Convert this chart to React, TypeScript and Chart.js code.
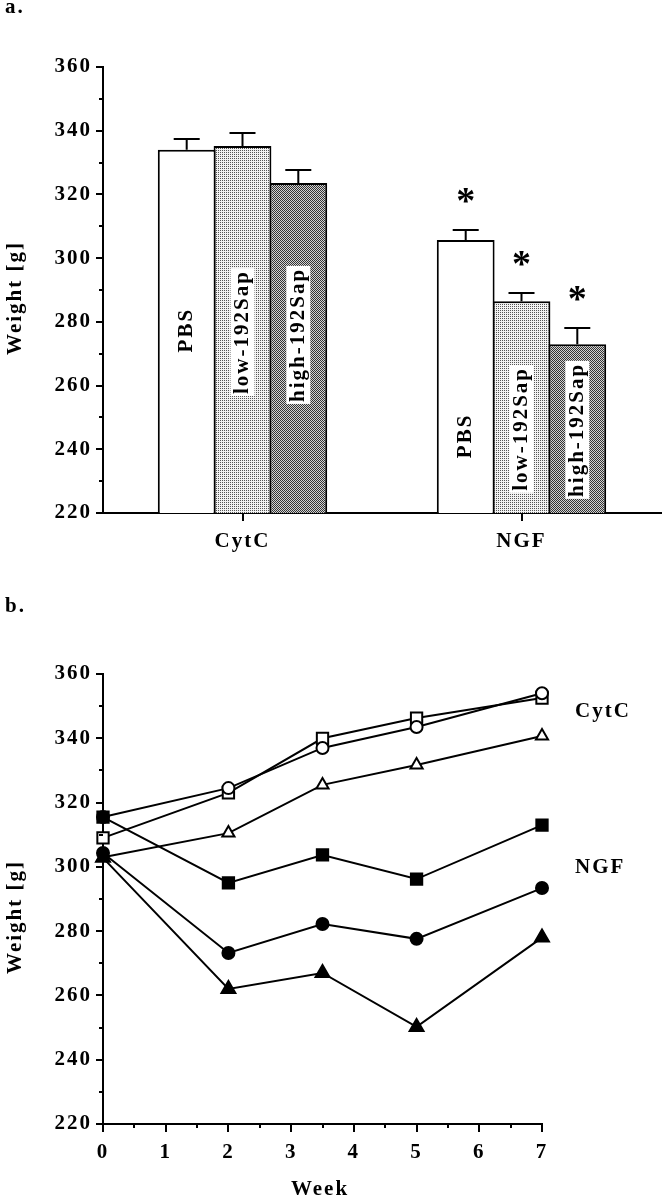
import React, { useEffect, useRef } from 'react';
import { Chart, registerables } from 'chart.js';

Chart.register(...registerables);

// ---------- data ----------
const barCategories = ['CytC', 'NGF'];
const barGroups = ['PBS', 'low-192Sap', 'high-192Sap'];
const pbsWeights = [334, 305.7];
const lowSapWeights = [335.2, 286.5];
const highSapWeights = [323.6, 273];
const pbsErrors = [3.5, 3.1];
const lowSapErrors = [4.1, 2.5];
const highSapErrors = [4.1, 5];
const significant = [false, true];

const weeks = [0, 2, 3.5, 5, 7];
const cytcCircle = [315.5, 324.5, 337, 343.5, 354];
const cytcSquare = [309, 323, 340, 346.3, 352.5];
const cytcTriangle = [303, 310.5, 325.5, 331.7, 340.7];
const ngfSquare = [315.5, 295, 303.7, 296.2, 313];
const ngfCircle = [304.3, 273.2, 282.2, 277.6, 293.4];
const ngfTriangle = [302.8, 262, 267, 250.2, 278];

const yTicksMin = 220;
const yTicksMax = 360;
const yStep = 20;

// ---------- styling helpers ----------
const FONT = "'Liberation Serif', 'Times New Roman', serif";
const FSIZE = 21;
const tickFont = { family: FONT, size: FSIZE, weight: 'bold' as const };
const SPACING = '2px';

// label centres (in weight units along the bar) for the rotated bar labels
const barLabelAt = [
  [277.4, 244.2],
  [276.8, 246.4],
  [275.9, 246.1],
];

function makePattern(ctx: CanvasRenderingContext2D, kind: 'low' | 'high') {
  const c = document.createElement('canvas');
  c.width = 2;
  c.height = 2;
  const g = c.getContext('2d')!;
  if (kind === 'low') {
    g.fillStyle = '#f2f2f2';
    g.fillRect(0, 0, 2, 2);
    g.fillStyle = '#555555';
    g.fillRect(0, 0, 1, 1);
  } else {
    g.fillStyle = '#d2d2d2';
    g.fillRect(0, 0, 2, 2);
    g.fillStyle = '#333333';
    g.fillRect(0, 0, 1, 1);
    g.fillRect(1, 1, 1, 1);
  }
  return ctx.createPattern(c, 'repeat')!;
}

function drawMinorY(chart: any) {
  const ctx = chart.ctx;
  const ys = chart.scales.y;
  const left = chart.chartArea.left;
  ctx.save();
  ctx.strokeStyle = '#000';
  ctx.lineWidth = 2;
  for (let v = yTicksMin + yStep / 2; v < yTicksMax; v += yStep) {
    const y = Math.round(ys.getPixelForValue(v));
    ctx.beginPath();
    ctx.moveTo(left - 4, y);
    ctx.lineTo(left, y);
    ctx.stroke();
  }
  ctx.restore();
}

function drawText(ctx: CanvasRenderingContext2D, text: string, x: number, y: number, align: CanvasTextAlign, baseline: CanvasTextBaseline, rotate = false) {
  ctx.save();
  ctx.font = `bold ${FSIZE}px ${FONT}`;
  (ctx as any).letterSpacing = SPACING;
  ctx.fillStyle = '#000';
  ctx.textAlign = align;
  ctx.textBaseline = baseline;
  ctx.translate(x, y);
  if (rotate) ctx.rotate(-Math.PI / 2);
  ctx.fillText(text, 0, 0);
  ctx.restore();
}

const topPlugin = {
  id: 'topAnnot',
  beforeDraw(chart: any) {
    chart.ctx.letterSpacing = SPACING;
  },
  afterDatasetsDraw(chart: any) {
    const ctx = chart.ctx;
    const ys = chart.scales.y;
    const errs = [pbsErrors, lowSapErrors, highSapErrors];
    chart.data.datasets.forEach((ds: any, di: number) => {
      const meta = chart.getDatasetMeta(di);
      meta.data.forEach((bar: any, i: number) => {
        const v = ds.data[i];
        const e = errs[di][i];
        const yTop = ys.getPixelForValue(v);
        const yE = Math.round(ys.getPixelForValue(v + e));
        ctx.save();
        ctx.strokeStyle = '#000';
        ctx.lineWidth = 2;
        ctx.beginPath();
        ctx.moveTo(bar.x, yTop);
        ctx.lineTo(bar.x, yE);
        ctx.moveTo(bar.x - 13, yE);
        ctx.lineTo(bar.x + 13, yE);
        ctx.stroke();
        if (significant[i]) {
          ctx.letterSpacing = '0px';
          ctx.font = `bold 38px ${FONT}`;
          ctx.textAlign = 'center';
          ctx.textBaseline = 'alphabetic';
          ctx.fillStyle = '#000';
          ctx.fillText('*', bar.x, yE - 35 + 18);
        }
        const ly = ys.getPixelForValue(barLabelAt[di][i]);
        ctx.translate(bar.x, ly);
        ctx.rotate(-Math.PI / 2);
        ctx.font = `bold ${FSIZE}px ${FONT}`;
        ctx.letterSpacing = SPACING;
        const w = ctx.measureText(ds.label).width;
        if (di > 0) {
          ctx.fillStyle = '#fff';
          ctx.fillRect(-w / 2 - 2, -12, w + 4, 24);
        }
        ctx.fillStyle = '#000';
        ctx.textAlign = 'center';
        ctx.textBaseline = 'middle';
        ctx.fillText(ds.label, 0, 0);
        ctx.restore();
      });
    });
  },
  afterDraw(chart: any) {
    drawMinorY(chart);
    drawText(chart.ctx, 'Weight [g]', 16, 298, 'center', 'middle', true);
    drawText(chart.ctx, 'a.', 5, 13, 'left', 'alphabetic');
  },
};

const bottomPlugin = {
  id: 'bottomAnnot',
  beforeDraw(chart: any) {
    chart.ctx.letterSpacing = SPACING;
  },
  afterDraw(chart: any) {
    const ctx = chart.ctx;
    drawMinorY(chart);
    const xs = chart.scales.x;
    const bottom = chart.chartArea.bottom;
    ctx.save();
    ctx.strokeStyle = '#000';
    ctx.lineWidth = 2;
    for (let w = 0.5; w < 7; w += 1) {
      const x = Math.round(xs.getPixelForValue(w));
      ctx.beginPath();
      ctx.moveTo(x, bottom);
      ctx.lineTo(x, bottom + 4);
      ctx.stroke();
    }
    ctx.restore();
    drawText(ctx, 'Weight [g]', 16, 327, 'center', 'middle', true);
    drawText(ctx, 'Week', 320, 600, 'center', 'middle');
    drawText(ctx, 'CytC', 575, 122, 'left', 'middle');
    drawText(ctx, 'NGF', 575, 278, 'left', 'middle');
    drawText(ctx, 'b.', 5, 22, 'left', 'alphabetic');
  },
};

function yScale() {
  return {
    min: yTicksMin,
    max: yTicksMax,
    ticks: { stepSize: yStep, color: '#000', font: tickFont, padding: 4 },
    grid: { drawOnChartArea: false, drawTicks: true, tickLength: 7, color: '#000', lineWidth: 2 },
    border: { display: true, color: '#000', width: 2 },
    afterFit: (s: any) => {
      s.width = 103;
    },
  };
}

export default function App() {
  const topRef = useRef<HTMLCanvasElement>(null);
  const botRef = useRef<HTMLCanvasElement>(null);

  useEffect(() => {
    const topCanvas = topRef.current!;
    const botCanvas = botRef.current!;
    const tctx = topCanvas.getContext('2d')!;
    const lowPat = makePattern(tctx, 'low');
    const highPat = makePattern(tctx, 'high');

    const barBase = {
      borderColor: '#000',
      borderWidth: 2,
      categoryPercentage: 0.6,
      barPercentage: 1.036,
    };

    const top = new Chart(topCanvas, {
      type: 'bar',
      data: {
        labels: barCategories,
        datasets: [
          { label: barGroups[0], data: pbsWeights, backgroundColor: '#ffffff', ...barBase },
          { label: barGroups[1], data: lowSapWeights, backgroundColor: lowPat as any, ...barBase },
          { label: barGroups[2], data: highSapWeights, backgroundColor: highPat as any, ...barBase },
        ],
      },
      options: {
        responsive: false,
        animation: false,
        devicePixelRatio: 1,
        layout: { padding: { top: 67, right: 4, left: 0, bottom: 0 } },
        plugins: { legend: { display: false }, tooltip: { enabled: false } },
        scales: {
          x: {
            grid: { offset: false, drawOnChartArea: false, drawTicks: true, tickLength: 8, color: '#000', lineWidth: 2 },
            border: { display: true, color: '#000', width: 2 },
            ticks: { color: '#000', font: tickFont, padding: 8, maxRotation: 0 },
            afterFit: (s: any) => {
              s.height = 67;
            },
          },
          y: yScale() as any,
        },
      } as any,
      plugins: [topPlugin as any],
    });

    const mk = (label: string, arr: number[], style: string, filled: boolean, radius: number) => ({
      label,
      data: weeks.map((w, i) => ({ x: w, y: arr[i] })),
      borderColor: '#000',
      borderWidth: 2,
      pointStyle: style,
      pointRadius: radius,
      pointBackgroundColor: filled ? '#000' : '#fff',
      pointBorderColor: '#000',
      pointBorderWidth: 2,
      tension: 0,
      fill: false,
      clip: false,
    });

    const bottom = new Chart(botCanvas, {
      type: 'line',
      data: {
        datasets: [
          mk('NGF PBS', ngfSquare, 'rect', true, 8),
          mk('NGF low-192Sap', ngfCircle, 'circle', true, 6),
          mk('NGF high-192Sap', ngfTriangle, 'triangle', true, 8),
          mk('CytC high-192Sap', cytcTriangle, 'triangle', false, 7),
          mk('CytC PBS', cytcCircle, 'circle', false, 6),
          mk('CytC low-192Sap', cytcSquare, 'rect', false, 8),
        ],
      },
      options: {
        responsive: false,
        animation: false,
        devicePixelRatio: 1,
        layout: { padding: { top: 84, right: 123, left: 0, bottom: 0 } },
        plugins: { legend: { display: false }, tooltip: { enabled: false } },
        scales: {
          x: {
            type: 'linear',
            min: 0,
            max: 7,
            ticks: { stepSize: 1, color: '#000', font: tickFont, padding: 8 },
            grid: { drawOnChartArea: false, drawTicks: true, tickLength: 8, color: '#000', lineWidth: 2 },
            border: { display: true, color: '#000', width: 2 },
            afterFit: (s: any) => {
              s.height = 75;
            },
          },
          y: yScale() as any,
        },
      } as any,
      plugins: [bottomPlugin as any],
    });

    return () => {
      top.destroy();
      bottom.destroy();
    };
  }, []);

  return (
    <div style={{ position: 'absolute', left: 0, top: 0, width: 665, height: 1199, background: '#fff', overflow: 'hidden' }}>
      <canvas ref={topRef} width={665} height={580} style={{ position: 'absolute', left: 0, top: 0, display: 'block' }} />
      <canvas ref={botRef} width={665} height={609} style={{ position: 'absolute', left: 0, top: 590, display: 'block' }} />
    </div>
  );
}
